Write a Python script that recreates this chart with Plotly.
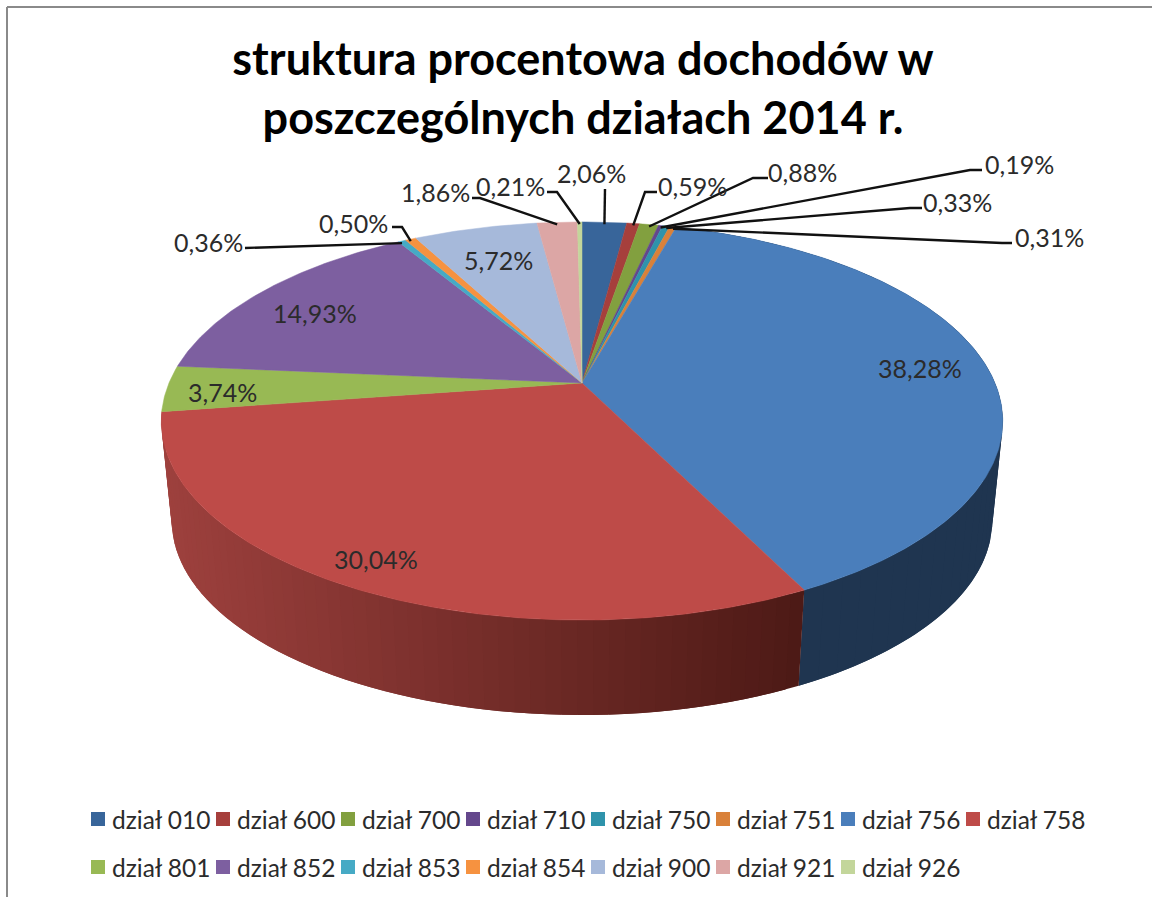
import numpy as np
import plotly.graph_objects as go

# ---------- data ----------
CATEGORIES = ["dział 010", "dział 600", "dział 700", "dział 710", "dział 750",
              "dział 751", "dział 756", "dział 758", "dział 801", "dział 852",
              "dział 853", "dział 854", "dział 900", "dział 921", "dział 926"]
SHARES = [2.06, 0.59, 0.88, 0.19, 0.33, 0.31, 38.28, 30.04,
          3.74, 14.93, 0.36, 0.50, 5.72, 1.86, 0.21]
COLORS = ["#38659a", "#a63f3c", "#82a03f", "#64478c", "#2f93ab",
          "#d9813a", "#4a7ebb", "#be4b48", "#98b954", "#7d5fa0",
          "#46aac5", "#f69240", "#a6b9da", "#dca6a5", "#c3d69b"]
TITLE = "struktura procentowa dochodów w<br>poszczególnych działach 2014 r."

# ---------- label placement (pixels): label centre, leader start, leader knee ----------
INSIDE_LABELS = {"dział 756": (920, 368), "dział 758": (376, 559), "dział 801": (222, 392),
                 "dział 852": (315, 313), "dział 900": (498, 260)}
OUTSIDE_LABELS = {
    "dział 010": ((591, 173), (605, 189), None),
    "dział 600": ((692, 186), (657, 192), (645, 192)),
    "dział 700": ((802, 172), (768, 178), (753, 178)),
    "dział 710": ((1019, 164), (982, 170), (970, 170)),
    "dział 750": ((957, 202), (922, 208), (910, 208)),
    "dział 751": ((1049, 237), (1012, 243), (1002, 243)),
    "dział 853": ((208, 242), (245, 248), None),
    "dział 854": ((353, 223), (392, 227), (402, 227)),
    "dział 921": ((435, 192), (472, 198), (480, 198)),
    "dział 926": ((510, 186), (547, 192), (557, 192)),
}

# ---------- pie geometry (perspective-projected disc) ----------
CX, APEX_Y = 582.0, 383.0
PERSP, SCALE_Y, SCALE_X = 0.191, 191.8, 413.0
ELL_Y, BOTTOM_SCALE, BOTTOM_DY = 421.0, 0.975, 100.0


def top_pt(pct):
    t = np.asarray(pct) * 2 * np.pi / 100
    u, v = np.sin(t), np.cos(t)
    d = 1 + PERSP * v
    return CX + SCALE_X * u / d, APEX_Y - SCALE_Y * v / d


def bottom_pt(pct):
    x, y = top_pt(pct)
    return CX + BOTTOM_SCALE * (x - CX), ELL_Y + BOTTOM_SCALE * (y - ELL_Y) + BOTTOM_DY


def wall(p0, p1, color):
    steps = np.linspace(p0, p1, 4)
    xt, yt = top_pt(steps)
    xb, yb = bottom_pt(steps[::-1])
    return go.Scatter(x=np.r_[xt, xb], y=np.r_[yt, yb], mode="lines", fill="toself",
                      fillcolor=color, line=dict(width=0),
                      hoverinfo="skip", showlegend=False)


fig = go.Figure()
cum = np.r_[0, np.cumsum(SHARES)]
idx = {c: i for i, c in enumerate(CATEGORIES)}

# side walls: overlapping strips, painted in rim order so no seams show
i_blue, i_red = idx["dział 756"], idx["dział 758"]
BLUE_STRIPS, RED_STRIPS = 50, 60
edges = np.linspace(cum[i_blue], cum[i_blue + 1], BLUE_STRIPS + 1)
step = edges[1] - edges[0]
for a in edges[:-1]:
    fig.add_trace(wall(a, min(a + 2 * step, cum[i_blue + 1]), "#1f3550"))
edges = np.linspace(cum[i_red], cum[i_red + 1], RED_STRIPS + 1)
step = edges[1] - edges[0]
DARK, LIGHT = np.array([0x4d, 0x1a, 0x16]), np.array([0x9e, 0x41, 0x3e])
x_start, x_end = top_pt(cum[i_red])[0], top_pt(cum[i_red + 1])[0]
for a in edges[:-1]:
    f = (x_start - top_pt(a + step / 2)[0]) / (x_start - x_end)
    c = DARK + (LIGHT - DARK) * f
    fig.add_trace(wall(a, min(a + 2 * step, cum[i_red + 1]), "rgb(%d,%d,%d)" % tuple(c)))


def fmt(v):
    return f"{v:.2f}%".replace(".", ",")


# top face
for i, name in enumerate(CATEGORIES):
    steps = np.linspace(cum[i], cum[i + 1], max(3, int(SHARES[i] * 6) + 2))
    x, y = top_pt(steps)
    fig.add_trace(go.Scatter(x=np.r_[CX, x, CX], y=np.r_[APEX_Y, y, APEX_Y], mode="lines",
                             fill="toself", fillcolor=COLORS[i],
                             line=dict(color=COLORS[i], width=0.5),
                             name=name, showlegend=False,
                             hovertemplate=name + ": " + fmt(SHARES[i]) + "<extra></extra>"))

# leaders and labels
LABEL_FONT = dict(family="Lato, Carlito, sans-serif", size=25, color="#2b2b2b")
LEGEND_FONT = dict(family="Lato, Carlito, sans-serif", size=24.5, color="#2b2b2b")
for name, (centre, start, knee) in OUTSIDE_LABELS.items():
    i = idx[name]
    ex, ey = top_pt((cum[i] + cum[i + 1]) / 2)
    pts = [start] + ([knee] if knee else []) + [(float(ex), float(ey) + 2)]
    fig.add_trace(go.Scatter(x=[p[0] for p in pts], y=[p[1] for p in pts], mode="lines",
                             line=dict(color="#111111", width=2.4),
                             hoverinfo="skip", showlegend=False))
    fig.add_annotation(x=centre[0], y=centre[1], text=fmt(SHARES[i]), showarrow=False,
                       font=LABEL_FONT, xanchor="center", yanchor="middle")
for name, centre in INSIDE_LABELS.items():
    fig.add_annotation(x=centre[0], y=centre[1], text=fmt(SHARES[idx[name]]), showarrow=False,
                       font=LABEL_FONT, xanchor="center", yanchor="middle")

# legend, two rows of eight
for i, name in enumerate(CATEGORIES):
    col, row = i % 8, i // 8
    y = 819 + 48 * row
    fig.add_trace(go.Scatter(x=[98 + 125 * col], y=[y], mode="markers",
                             marker=dict(symbol="square", size=14, color=COLORS[i]),
                             name=name, showlegend=False, hoverinfo="skip"))
    fig.add_annotation(x=110 + 125 * col, y=y, text=name, showarrow=False, font=LEGEND_FONT,
                       xanchor="left", yanchor="middle")

fig.update_layout(
    width=1152, height=897, margin=dict(l=0, r=0, t=0, b=0),
    paper_bgcolor="white", plot_bgcolor="white",
    xaxis=dict(range=[0, 1152], visible=False, fixedrange=True),
    yaxis=dict(range=[897, 0], visible=False, fixedrange=True),
    title=dict(text=TITLE, x=583 / 1152, y=1 - 75 / 897, xanchor="center", yanchor="middle",
               font=dict(family="Lato, Carlito, sans-serif", size=45, color="#000000", weight="bold")),
    shapes=[dict(type="line", x0=7, x1=7, y0=7, y1=897, line=dict(color="#8a8a8a", width=2)),
            dict(type="line", x0=7, x1=1152, y0=7, y1=7, line=dict(color="#8a8a8a", width=2))],
)
fig.write_html("out.html", config={"displayModeBar": False},
               post_script="document.body.style.margin='0';document.documentElement.style.overflow='hidden';")
